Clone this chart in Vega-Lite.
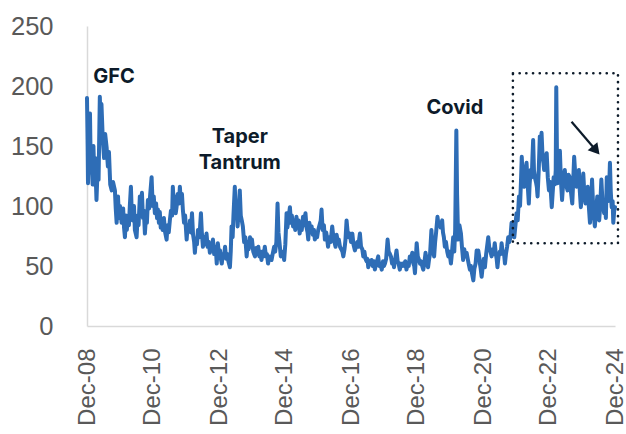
{
  "$schema": "https://vega.github.io/schema/vega-lite/v6.json",
  "width": 528,
  "height": 300,
  "autosize": {"type": "none"},
  "padding": {"left": 87, "top": 26, "right": 11, "bottom": 108},
  "background": "white",
  "config": {"view": {"stroke": null}, "font": "Liberation Sans"},
  "datasets": {
    "series": [
      {"d":"2008-12-01","v":190},{"d":"2008-12-08","v":150},{"d":"2008-12-12","v":119},{"d":"2008-12-20","v":165},
      {"d":"2009-01-03","v":177},{"d":"2009-01-12","v":128},{"d":"2009-01-22","v":136},{"d":"2009-02-01","v":118},{"d":"2009-02-10","v":150},{"d":"2009-02-20","v":125},{"d":"2009-03-01","v":140},{"d":"2009-03-16","v":105},{"d":"2009-03-28","v":130},{"d":"2009-04-08","v":122},{"d":"2009-04-22","v":191},{"d":"2009-05-01","v":165},{"d":"2009-05-10","v":185},{"d":"2009-05-25","v":155},{"d":"2009-06-08","v":140},{"d":"2009-06-20","v":160},{"d":"2009-07-06","v":149},{"d":"2009-07-20","v":133},{"d":"2009-08-01","v":145},{"d":"2009-08-15","v":118},{"d":"2009-09-01","v":113},{"d":"2009-09-15","v":120},{"d":"2009-10-06","v":113},{"d":"2009-10-15","v":98},{"d":"2009-10-25","v":86},{"d":"2009-11-09","v":108},{"d":"2009-11-20","v":90},{"d":"2009-12-01","v":100},{"d":"2009-12-19","v":86},
      {"d":"2010-01-05","v":98},{"d":"2010-01-15","v":82},{"d":"2010-01-25","v":74},{"d":"2010-02-05","v":92},{"d":"2010-02-15","v":80},{"d":"2010-02-24","v":91},{"d":"2010-03-10","v":84},{"d":"2010-03-20","v":100},{"d":"2010-04-01","v":116},{"d":"2010-04-10","v":95},{"d":"2010-04-22","v":88},{"d":"2010-05-05","v":100},{"d":"2010-05-15","v":80},{"d":"2010-06-03","v":74},{"d":"2010-06-15","v":92},{"d":"2010-06-25","v":84},{"d":"2010-07-09","v":108},{"d":"2010-07-20","v":95},{"d":"2010-08-01","v":111},{"d":"2010-08-12","v":90},{"d":"2010-08-22","v":96},{"d":"2010-09-03","v":77},{"d":"2010-09-15","v":92},{"d":"2010-09-25","v":86},{"d":"2010-10-06","v":105},{"d":"2010-10-20","v":98},{"d":"2010-11-01","v":110},{"d":"2010-11-16","v":124},{"d":"2010-11-28","v":100},{"d":"2010-12-10","v":108},{"d":"2010-12-22","v":94},
      {"d":"2011-01-05","v":102},{"d":"2011-01-15","v":90},{"d":"2011-01-25","v":97},{"d":"2011-02-05","v":86},{"d":"2011-02-15","v":95},{"d":"2011-02-25","v":82},{"d":"2011-03-06","v":88},{"d":"2011-03-18","v":80},{"d":"2011-04-01","v":90},{"d":"2011-04-15","v":78},{"d":"2011-05-01","v":72},{"d":"2011-05-12","v":84},{"d":"2011-05-25","v":78},{"d":"2011-06-06","v":88},{"d":"2011-06-18","v":96},{"d":"2011-07-01","v":92},{"d":"2011-07-09","v":116},{"d":"2011-07-20","v":100},{"d":"2011-08-01","v":108},{"d":"2011-08-10","v":94},{"d":"2011-08-19","v":99},{"d":"2011-09-01","v":110},{"d":"2011-09-15","v":102},{"d":"2011-09-25","v":116},{"d":"2011-10-05","v":104},{"d":"2011-10-18","v":110},{"d":"2011-10-28","v":97},{"d":"2011-11-10","v":86},{"d":"2011-11-22","v":92},{"d":"2011-12-09","v":72},{"d":"2011-12-20","v":84},
      {"d":"2012-01-05","v":80},{"d":"2012-01-15","v":88},{"d":"2012-01-25","v":78},{"d":"2012-02-06","v":94},{"d":"2012-02-18","v":76},{"d":"2012-03-01","v":70},{"d":"2012-03-09","v":61},{"d":"2012-03-20","v":72},{"d":"2012-04-01","v":68},{"d":"2012-04-12","v":80},{"d":"2012-04-25","v":74},{"d":"2012-05-05","v":82},{"d":"2012-05-15","v":94},{"d":"2012-05-25","v":78},{"d":"2012-06-06","v":66},{"d":"2012-06-18","v":74},{"d":"2012-07-01","v":68},{"d":"2012-07-16","v":77},{"d":"2012-07-28","v":66},{"d":"2012-08-10","v":70},{"d":"2012-08-22","v":61},{"d":"2012-09-05","v":68},{"d":"2012-09-15","v":64},{"d":"2012-09-25","v":72},{"d":"2012-10-08","v":60},{"d":"2012-10-20","v":66},{"d":"2012-11-01","v":58},{"d":"2012-11-06","v":52},{"d":"2012-11-18","v":69},{"d":"2012-12-01","v":60},{"d":"2012-12-12","v":63},{"d":"2012-12-22","v":56},
      {"d":"2013-01-01","v":52},{"d":"2013-01-12","v":60},{"d":"2013-01-25","v":58},{"d":"2013-02-06","v":66},{"d":"2013-02-18","v":56},{"d":"2013-03-01","v":60},{"d":"2013-03-15","v":54},{"d":"2013-04-01","v":49},{"d":"2013-04-10","v":62},{"d":"2013-04-19","v":83},{"d":"2013-05-01","v":74},{"d":"2013-05-10","v":92},{"d":"2013-05-25","v":116},{"d":"2013-06-05","v":90},{"d":"2013-06-15","v":100},{"d":"2013-06-25","v":83},{"d":"2013-07-05","v":95},{"d":"2013-07-19","v":113},{"d":"2013-07-30","v":92},{"d":"2013-08-10","v":88},{"d":"2013-08-22","v":83},{"d":"2013-09-05","v":70},{"d":"2013-09-18","v":74},{"d":"2013-10-03","v":58},{"d":"2013-10-15","v":70},{"d":"2013-10-25","v":64},{"d":"2013-11-09","v":74},{"d":"2013-11-20","v":66},{"d":"2013-12-01","v":72},{"d":"2013-12-15","v":62},
      {"d":"2014-01-03","v":58},{"d":"2014-01-15","v":65},{"d":"2014-01-25","v":60},{"d":"2014-02-09","v":66},{"d":"2014-02-20","v":58},{"d":"2014-03-05","v":62},{"d":"2014-03-16","v":55},{"d":"2014-03-28","v":62},{"d":"2014-04-10","v":58},{"d":"2014-04-22","v":66},{"d":"2014-05-05","v":58},{"d":"2014-05-15","v":60},{"d":"2014-05-28","v":52},{"d":"2014-06-10","v":58},{"d":"2014-06-22","v":56},{"d":"2014-07-06","v":55},{"d":"2014-07-18","v":60},{"d":"2014-08-03","v":66},{"d":"2014-08-15","v":62},{"d":"2014-08-28","v":70},{"d":"2014-09-10","v":102},{"d":"2014-09-20","v":78},{"d":"2014-10-01","v":70},{"d":"2014-10-16","v":58},{"d":"2014-10-28","v":62},{"d":"2014-11-10","v":60},{"d":"2014-11-22","v":55},{"d":"2014-12-05","v":68},{"d":"2014-12-19","v":94},{"d":"2014-12-28","v":82},
      {"d":"2015-01-10","v":90},{"d":"2015-01-25","v":99},{"d":"2015-02-05","v":86},{"d":"2015-02-15","v":92},{"d":"2015-03-01","v":83},{"d":"2015-03-15","v":88},{"d":"2015-03-25","v":80},{"d":"2015-04-07","v":91},{"d":"2015-04-20","v":84},{"d":"2015-05-01","v":88},{"d":"2015-05-13","v":77},{"d":"2015-05-25","v":84},{"d":"2015-06-05","v":80},{"d":"2015-06-19","v":91},{"d":"2015-07-01","v":84},{"d":"2015-07-16","v":94},{"d":"2015-07-28","v":82},{"d":"2015-08-08","v":78},{"d":"2015-08-16","v":72},{"d":"2015-08-28","v":86},{"d":"2015-09-10","v":80},{"d":"2015-09-22","v":83},{"d":"2015-10-05","v":76},{"d":"2015-10-18","v":80},{"d":"2015-10-28","v":72},{"d":"2015-11-10","v":76},{"d":"2015-11-22","v":74},{"d":"2015-12-04","v":80},{"d":"2015-12-18","v":84},
      {"d":"2016-01-01","v":88},{"d":"2016-01-10","v":97},{"d":"2016-01-22","v":80},{"d":"2016-02-05","v":84},{"d":"2016-02-16","v":72},{"d":"2016-03-01","v":78},{"d":"2016-03-10","v":74},{"d":"2016-03-22","v":66},{"d":"2016-04-05","v":74},{"d":"2016-04-20","v":70},{"d":"2016-05-07","v":83},{"d":"2016-05-20","v":74},{"d":"2016-06-01","v":70},{"d":"2016-06-13","v":66},{"d":"2016-06-25","v":76},{"d":"2016-07-08","v":70},{"d":"2016-07-19","v":72},{"d":"2016-08-01","v":66},{"d":"2016-08-15","v":64},{"d":"2016-08-28","v":62},{"d":"2016-09-07","v":58},{"d":"2016-09-20","v":64},{"d":"2016-10-01","v":72},{"d":"2016-10-13","v":88},{"d":"2016-10-25","v":78},{"d":"2016-11-05","v":74},{"d":"2016-11-19","v":77},{"d":"2016-12-01","v":70},{"d":"2016-12-16","v":77},{"d":"2016-12-28","v":68},
      {"d":"2017-01-13","v":63},{"d":"2017-01-25","v":66},{"d":"2017-02-08","v":70},{"d":"2017-02-20","v":66},{"d":"2017-03-01","v":72},{"d":"2017-03-10","v":77},{"d":"2017-03-22","v":66},{"d":"2017-04-05","v":64},{"d":"2017-04-16","v":58},{"d":"2017-04-28","v":62},{"d":"2017-05-10","v":56},{"d":"2017-05-22","v":54},{"d":"2017-06-01","v":56},{"d":"2017-06-10","v":49},{"d":"2017-06-22","v":54},{"d":"2017-07-05","v":52},{"d":"2017-07-16","v":55},{"d":"2017-07-28","v":50},{"d":"2017-08-10","v":54},{"d":"2017-08-22","v":47},{"d":"2017-09-05","v":52},{"d":"2017-09-15","v":54},{"d":"2017-09-28","v":58},{"d":"2017-10-10","v":50},{"d":"2017-10-22","v":52},{"d":"2017-11-06","v":47},{"d":"2017-11-20","v":54},{"d":"2017-12-01","v":50},{"d":"2017-12-12","v":52},{"d":"2017-12-25","v":56},
      {"d":"2018-01-10","v":72},{"d":"2018-01-22","v":62},{"d":"2018-02-05","v":60},{"d":"2018-02-16","v":58},{"d":"2018-03-01","v":52},{"d":"2018-03-12","v":55},{"d":"2018-03-22","v":49},{"d":"2018-04-05","v":56},{"d":"2018-04-19","v":63},{"d":"2018-05-01","v":54},{"d":"2018-05-12","v":52},{"d":"2018-05-25","v":47},{"d":"2018-06-08","v":52},{"d":"2018-06-20","v":50},{"d":"2018-07-01","v":52},{"d":"2018-07-15","v":50},{"d":"2018-07-25","v":54},{"d":"2018-08-07","v":47},{"d":"2018-08-20","v":52},{"d":"2018-09-01","v":50},{"d":"2018-09-13","v":58},{"d":"2018-09-25","v":54},{"d":"2018-10-10","v":61},{"d":"2018-10-22","v":52},{"d":"2018-11-01","v":50},{"d":"2018-11-09","v":44},{"d":"2018-11-18","v":56},{"d":"2018-11-28","v":69},{"d":"2018-12-10","v":58},{"d":"2018-12-20","v":56},
      {"d":"2019-01-03","v":52},{"d":"2019-01-15","v":54},{"d":"2019-01-28","v":50},{"d":"2019-02-09","v":47},{"d":"2019-02-20","v":52},{"d":"2019-03-06","v":61},{"d":"2019-03-18","v":54},{"d":"2019-04-03","v":49},{"d":"2019-04-15","v":56},{"d":"2019-04-25","v":60},{"d":"2019-05-10","v":80},{"d":"2019-05-20","v":66},{"d":"2019-06-01","v":62},{"d":"2019-06-09","v":58},{"d":"2019-06-20","v":70},{"d":"2019-07-01","v":78},{"d":"2019-07-16","v":91},{"d":"2019-07-28","v":84},{"d":"2019-08-10","v":86},{"d":"2019-08-20","v":82},{"d":"2019-09-06","v":88},{"d":"2019-09-15","v":78},{"d":"2019-09-25","v":74},{"d":"2019-10-06","v":66},{"d":"2019-10-18","v":70},{"d":"2019-11-01","v":62},{"d":"2019-11-13","v":58},{"d":"2019-11-25","v":62},{"d":"2019-12-12","v":52},{"d":"2019-12-22","v":60},
      {"d":"2020-01-06","v":74},{"d":"2020-01-18","v":62},{"d":"2020-01-28","v":80},{"d":"2020-02-10","v":163},{"d":"2020-02-18","v":110},{"d":"2020-03-01","v":72},{"d":"2020-03-15","v":84},{"d":"2020-04-01","v":77},{"d":"2020-04-12","v":66},{"d":"2020-04-25","v":55},{"d":"2020-05-08","v":64},{"d":"2020-05-20","v":58},{"d":"2020-06-03","v":61},{"d":"2020-06-15","v":56},{"d":"2020-06-25","v":52},{"d":"2020-07-09","v":47},{"d":"2020-07-20","v":50},{"d":"2020-08-01","v":44},{"d":"2020-08-16","v":38},{"d":"2020-08-28","v":48},{"d":"2020-09-10","v":52},{"d":"2020-09-22","v":63},{"d":"2020-10-01","v":56},{"d":"2020-10-09","v":63},{"d":"2020-10-20","v":58},{"d":"2020-10-28","v":52},{"d":"2020-11-05","v":48},{"d":"2020-11-16","v":41},{"d":"2020-11-28","v":50},{"d":"2020-12-10","v":56},{"d":"2020-12-22","v":49},
      {"d":"2021-01-05","v":60},{"d":"2021-01-15","v":66},{"d":"2021-01-28","v":74},{"d":"2021-02-10","v":64},{"d":"2021-02-22","v":62},{"d":"2021-03-06","v":58},{"d":"2021-03-18","v":64},{"d":"2021-03-28","v":60},{"d":"2021-04-10","v":69},{"d":"2021-04-22","v":60},{"d":"2021-05-01","v":56},{"d":"2021-05-10","v":49},{"d":"2021-05-22","v":58},{"d":"2021-06-05","v":62},{"d":"2021-06-15","v":60},{"d":"2021-06-25","v":69},{"d":"2021-07-08","v":60},{"d":"2021-07-20","v":62},{"d":"2021-08-01","v":52},{"d":"2021-08-12","v":60},{"d":"2021-08-25","v":66},{"d":"2021-09-06","v":74},{"d":"2021-09-18","v":70},{"d":"2021-10-01","v":74},{"d":"2021-10-13","v":86},{"d":"2021-10-25","v":80},{"d":"2021-11-12","v":74},{"d":"2021-11-25","v":84},{"d":"2021-12-07","v":94},{"d":"2021-12-20","v":88},
      {"d":"2022-01-03","v":108},{"d":"2022-01-15","v":100},{"d":"2022-01-25","v":120},{"d":"2022-02-03","v":141},{"d":"2022-02-15","v":120},{"d":"2022-03-01","v":116},{"d":"2022-03-10","v":128},{"d":"2022-03-28","v":136},{"d":"2022-04-08","v":120},{"d":"2022-04-22","v":102},{"d":"2022-05-01","v":118},{"d":"2022-05-13","v":130},{"d":"2022-05-25","v":124},{"d":"2022-06-01","v":140},{"d":"2022-06-09","v":155},{"d":"2022-06-18","v":130},{"d":"2022-06-28","v":124},{"d":"2022-07-10","v":120},{"d":"2022-07-20","v":116},{"d":"2022-07-28","v":108},{"d":"2022-08-10","v":130},{"d":"2022-08-22","v":158},{"d":"2022-09-01","v":142},{"d":"2022-09-10","v":161},{"d":"2022-09-22","v":140},{"d":"2022-10-01","v":136},{"d":"2022-10-09","v":130},{"d":"2022-10-20","v":140},{"d":"2022-11-06","v":144},{"d":"2022-11-18","v":124},{"d":"2022-12-01","v":113},{"d":"2022-12-15","v":120},
      {"d":"2023-01-01","v":99},{"d":"2023-01-12","v":112},{"d":"2023-01-22","v":124},{"d":"2023-02-05","v":118},{"d":"2023-02-14","v":130},{"d":"2023-02-20","v":199},{"d":"2023-02-28","v":140},{"d":"2023-03-06","v":119},{"d":"2023-03-18","v":128},{"d":"2023-04-01","v":146},{"d":"2023-04-12","v":122},{"d":"2023-04-25","v":105},{"d":"2023-05-08","v":120},{"d":"2023-05-25","v":130},{"d":"2023-06-08","v":118},{"d":"2023-06-25","v":113},{"d":"2023-07-05","v":126},{"d":"2023-07-19","v":124},{"d":"2023-08-01","v":112},{"d":"2023-08-16","v":102},{"d":"2023-08-26","v":120},{"d":"2023-09-06","v":141},{"d":"2023-09-20","v":124},{"d":"2023-10-03","v":116},{"d":"2023-10-15","v":124},{"d":"2023-10-28","v":130},{"d":"2023-11-08","v":112},{"d":"2023-11-19","v":99},{"d":"2023-12-01","v":110},{"d":"2023-12-16","v":127},{"d":"2023-12-28","v":110},
      {"d":"2024-01-10","v":102},{"d":"2024-01-22","v":110},{"d":"2024-02-03","v":116},{"d":"2024-02-15","v":100},{"d":"2024-02-28","v":86},{"d":"2024-03-10","v":100},{"d":"2024-03-22","v":122},{"d":"2024-04-05","v":96},{"d":"2024-04-22","v":83},{"d":"2024-05-05","v":96},{"d":"2024-05-19","v":108},{"d":"2024-05-28","v":96},{"d":"2024-06-09","v":88},{"d":"2024-06-20","v":100},{"d":"2024-07-03","v":122},{"d":"2024-07-15","v":104},{"d":"2024-08-03","v":94},{"d":"2024-08-15","v":100},{"d":"2024-08-22","v":90},{"d":"2024-09-01","v":124},{"d":"2024-09-12","v":104},{"d":"2024-09-25","v":110},{"d":"2024-10-06","v":136},{"d":"2024-10-15","v":112},{"d":"2024-10-25","v":99},{"d":"2024-11-05","v":104},{"d":"2024-11-12","v":86},{"d":"2024-11-22","v":96},{"d":"2024-12-01","v":99}
    ],
    "labels": [
      {"d": "2009-09-25", "v": 207.5, "label": "GFC"},
      {"d": "2013-07-19", "v": 157.5, "label": "Taper"},
      {"d": "2013-07-19", "v": 136, "label": "Tantrum"},
      {"d": "2020-01-25", "v": 181.7, "label": "Covid"}
    ],
    "box": [{"d1": "2021-10-28", "d2": "2025-01-03", "v1": 68.9, "v2": 210.6}],
    "arrow": [{"d1": "2023-08-08", "v1": 170.2, "d2": "2024-04-22", "v2": 147.5}]
  },
  "layer": [
    {
      "data": {"name": "series"},
      "mark": {"type": "line", "color": "#2E6DB6", "strokeWidth": 4, "strokeJoin": "round", "strokeCap": "round"},
      "encoding": {
        "x": {
          "field": "d", "type": "temporal",
          "scale": {"type": "utc", "domain": [{"year": 2008, "month": 12, "date": 1, "utc": true}, {"year": 2024, "month": 12, "date": 1, "utc": true}]},
          "axis": {
            "title": null,
            "values": [
              {"year": 2008, "month": 12, "date": 1, "utc": true}, {"year": 2010, "month": 12, "date": 1, "utc": true},
              {"year": 2012, "month": 12, "date": 1, "utc": true}, {"year": 2014, "month": 12, "date": 1, "utc": true},
              {"year": 2016, "month": 12, "date": 1, "utc": true}, {"year": 2018, "month": 12, "date": 1, "utc": true},
              {"year": 2020, "month": 12, "date": 1, "utc": true}, {"year": 2022, "month": 12, "date": 1, "utc": true},
              {"year": 2024, "month": 12, "date": 1, "utc": true}
            ],
            "labelExpr": "utcFormat(datum.value, '%b-%y')",
            "labelAngle": -90, "labelAlign": "right", "labelBaseline": "middle",
            "labelFont": "Liberation Sans", "labelFontSize": 24, "labelColor": "#595959", "labelPadding": 22,
            "ticks": false, "grid": false, "domainColor": "#D9D9D9", "domainWidth": 1.5,
            "labelOverlap": false, "labelBound": false, "labelFlush": false
          }
        },
        "y": {
          "field": "v", "type": "quantitative",
          "scale": {"domain": [0, 250], "nice": false},
          "axis": {
            "title": null, "values": [0, 50, 100, 150, 200, 250],
            "labelFont": "Liberation Sans", "labelFontSize": 25.5, "labelColor": "#595959", "labelPadding": 34,
            "ticks": false, "grid": false, "domainColor": "#D9D9D9", "domainWidth": 1.5,
            "labelOverlap": false, "labelBound": false, "labelFlush": false
          }
        }
      }
    },
    {
      "data": {"name": "box"},
      "mark": {"type": "rect", "fill": null, "filled": false, "stroke": "#0D1B2A", "strokeWidth": 2.6, "strokeDash": [0.1, 6.6], "strokeCap": "round"},
      "encoding": {
        "x": {"field": "d1", "type": "temporal"},
        "x2": {"field": "d2"},
        "y": {"field": "v1", "type": "quantitative"},
        "y2": {"field": "v2"}
      }
    },
    {
      "data": {"name": "arrow"},
      "mark": {"type": "rule", "color": "#0D1B2A", "strokeWidth": 2.2},
      "encoding": {
        "x": {"field": "d1", "type": "temporal"},
        "x2": {"field": "d2"},
        "y": {"field": "v1", "type": "quantitative"},
        "y2": {"field": "v2"}
      }
    },
    {
      "data": {"name": "arrow"},
      "mark": {"type": "point", "shape": "triangle", "filled": true, "color": "#0D1B2A", "size": 160, "angle": 140, "opacity": 1},
      "encoding": {
        "x": {"field": "d2", "type": "temporal"},
        "y": {"field": "v2", "type": "quantitative"}
      }
    },
    {
      "data": {"name": "labels"},
      "mark": {"type": "text", "fontSize": 20, "fontWeight": "bold", "color": "#0D1B2A", "align": "center", "baseline": "middle", "font": "Inter"},
      "encoding": {
        "x": {"field": "d", "type": "temporal"},
        "y": {"field": "v", "type": "quantitative"},
        "text": {"field": "label"}
      }
    }
  ]
}
